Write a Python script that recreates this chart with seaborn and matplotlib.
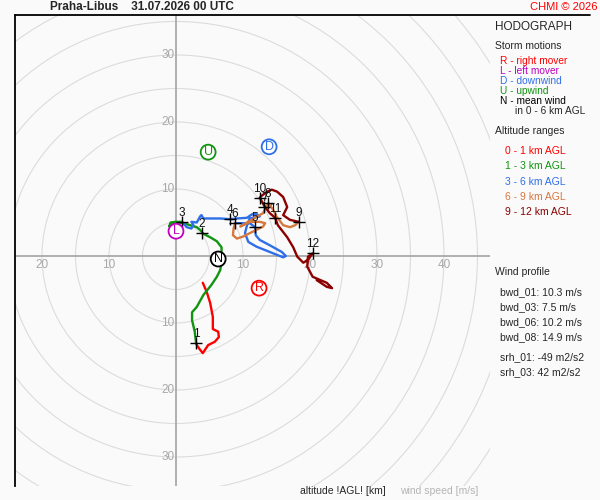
import matplotlib
matplotlib.use("Agg")
import numpy as np
import pandas as pd
import seaborn as sns
import matplotlib.pyplot as plt
from matplotlib.patches import Circle

# hodograph traces (u, v in m/s)
u_0_1 = [4.0, 4.6, 5.1, 5.5, 5.5, 6.3, 6.4, 5.8, 5.4, 4.8, 4.0, 3.6, 3.1, 3.0]
v_0_1 = [-4.0, -5.4, -7.0, -9.1, -10.9, -11.3, -12.1, -12.8, -13.0, -13.3, -14.5, -14.0, -13.3, -13.0]

u_1_3 = [3.0, 2.8, 2.4, 2.4, 3.1, 4.1, 5.3, 6.1, 6.6, 6.8, 6.8, 6.8, 6.1, 5.1, 4.1, 3.6,
         3.1, 2.1, 1.1, 0.1, -0.8, -1.0, -0.8, -0.1, 0.9]
v_1_3 = [-13.0, -11.3, -9.6, -8.4, -7.6, -5.8, -4.3, -3.1, -2.1, -1.0, 0.6, 1.3, 2.2, 2.8, 3.3, 3.9,
         4.3, 4.6, 4.9, 5.0, 4.8, 4.4, 5.0, 5.1, 5.1]

u_3_6 = [0.9, 1.6, 2.3, 2.6, 2.3, 3.1, 3.6, 3.8, 4.1, 5.1, 6.6, 8.1, 9.1, 10.6, 11.3, 12.0, 12.5,
         11.0, 10.6, 10.3, 10.8, 12.0, 14.0, 16.0, 16.4, 15.8, 14.0, 12.5, 11.9, 11.8, 11.0, 9.6, 8.8]
v_3_6 = [5.1, 4.3, 4.1, 4.6, 5.1, 5.0, 5.9, 6.1, 5.6, 5.6, 5.6, 5.5, 5.6, 5.7, 6.2, 6.3, 5.9,
         5.6, 4.6, 3.4, 2.1, 1.4, 0.6, -0.2, 0.0, 0.6, 1.6, 2.4, 3.1, 4.3, 4.9, 4.9, 4.9]

u_6_9 = [8.8, 8.6, 8.5, 9.1, 10.0, 11.0, 12.0, 13.0, 13.3, 12.5, 11.0, 10.0, 9.6, 11.8, 13.0,
         13.5, 13.8, 14.5, 15.0, 16.0, 17.0, 17.8, 18.3]
v_6_9 = [4.9, 4.1, 3.1, 2.6, 2.9, 3.4, 3.9, 4.4, 4.9, 5.1, 5.1, 4.6, 4.4, 5.7, 6.4,
         7.4, 7.9, 6.9, 5.9, 4.6, 4.3, 4.6, 5.1]

u_9_12 = [18.3, 17.0, 16.0, 16.6, 16.0, 15.1, 14.3, 13.6, 12.8, 12.5, 13.3, 14.0, 14.8, 15.2, 16.6,
          17.5, 18.1, 19.0, 19.7, 20.4, 19.7, 19.6, 20.4, 22.5, 23.3, 22.5, 21.0]
v_9_12 = [5.1, 5.4, 6.1, 7.3, 8.8, 9.6, 9.9, 9.6, 9.0, 8.7, 7.3, 6.4, 5.7, 4.6, 2.8,
          1.3, -0.1, -1.0, -0.6, 0.4, -0.1, -1.6, -3.1, -4.0, -4.8, -4.6, -3.6]

layers = ["0 - 1 km AGL", "1 - 3 km AGL", "3 - 6 km AGL", "6 - 9 km AGL", "9 - 12 km AGL"]
layer_colors = ["#ff0000", "#119411", "#2f6fe8", "#d47840", "#8b0000"]

# altitude marks (km)
alt_labels = ["1", "2", "3", "4", "5", "6", "7", "8", "9", "10", "11", "12"]
alt_u = [3.0, 3.9, 0.9, 8.1, 11.8, 8.8, 13.2, 13.7, 18.3, 12.5, 14.8, 20.4]
alt_v = [-13.0, 3.4, 5.1, 5.5, 4.3, 4.9, 7.3, 7.9, 5.1, 8.7, 5.7, 0.4]

# storm motions
storm_letters = ["R", "L", "D", "U", "N"]
storm_u = [12.4, 0.0, 13.9, 4.8, 6.3]
storm_v = [-4.8, 3.7, 16.3, 15.5, -0.45]
storm_colors = ["#ff0000", "#c000c0", "#2f6fe8", "#119411", "#000000"]

storm_text = ["R - right mover", "L - left mover", "D - downwind", "U - upwind", "N - mean wind"]
profile_text = ["bwd_01: 10.3 m/s", "bwd_03: 7.5 m/s", "bwd_06: 10.2 m/s", "bwd_08: 14.9 m/s"]
srh_text = ["srh_01: -49 m2/s2", "srh_03: 42 m2/s2"]

x_ticks = [-20, -10, 10, 20, 30, 40]
y_ticks = [-30, -20, -10, 10, 20, 30]

bg = "#fafafa"
sns.set_theme(style="white")
plt.rcParams["font.family"] = ["Liberation Sans", "DejaVu Sans"]

fig = plt.figure(figsize=(6, 5), dpi=100, facecolor=bg)
ax = fig.add_axes([15 / 600, 14 / 500, 475 / 600, 471 / 500])
ax.set_facecolor(bg)
ax.set_xlim(-24.03, 46.87)
ax.set_ylim(-34.33, 35.97)

# range rings every 5 m/s
for r in range(5, 75, 5):
    ax.add_patch(Circle((0, 0), r, fill=False, ec="#dcdcdc", lw=0.8, zorder=1))
ax.axhline(0, color="#a3a3a3", lw=1.2, zorder=2)
ax.axvline(0, color="#a3a3a3", lw=1.2, zorder=2)

for t in x_ticks:
    ax.text(t, -1.35, str(abs(t)), color="#a8a8a8", fontsize=8.5, ha="center", va="center", zorder=2)
for t in y_ticks:
    ax.text(-0.25, t, str(abs(t)), color="#a8a8a8", fontsize=8.5, ha="right", va="center", zorder=2)

rows = []
for name, us, vs in zip(layers, [u_0_1, u_1_3, u_3_6, u_6_9, u_9_12],
                        [v_0_1, v_1_3, v_3_6, v_6_9, v_9_12]):
    for i, (a, b) in enumerate(zip(us, vs)):
        rows.append({"layer": name, "step": i, "u": a, "v": b})
df = pd.DataFrame(rows)

sns.lineplot(data=df, x="u", y="v", hue="layer", palette=dict(zip(layers, layer_colors)),
             sort=False, estimator=None, legend=False, lw=1.7, ax=ax, zorder=3)

ax.plot(alt_u, alt_v, ls="none", marker="+", ms=8.5, mew=1, color="black", zorder=4)
for lab, a, b in zip(alt_labels, alt_u, alt_v):
    ax.text(a, b + 1.35, lab, fontsize=8.5, ha="center", va="center", color="#111111", zorder=5)

sns.scatterplot(x=storm_u, y=storm_v, s=115, color="white", edgecolor=storm_colors,
                linewidth=1.3, ax=ax, zorder=5)
for lt, a, b, c in zip(storm_letters, storm_u, storm_v, storm_colors):
    ax.text(a, b, lt, color=c, fontsize=9, ha="center", va="center", zorder=6)

ax.set_xticks([])
ax.set_yticks([])
ax.set_xlabel("")
ax.set_ylabel("")
for s in ["right", "bottom", "top"]:
    ax.spines[s].set_visible(False)
ax.spines["left"].set_color("black")
ax.spines["left"].set_linewidth(1.3)

fig.add_artist(plt.Line2D([15 / 600, 590 / 600], [1 - 15 / 500, 1 - 15 / 500],
                          color="black", lw=1.3))


def px(x, y, s, **kw):
    fig.text(x / 600, 1 - y / 500, s, va="center", **kw)


px(50, 7, "Praha-Libus    31.07.2026 00 UTC", fontsize=8.5, fontweight="bold")
px(598, 7, "CHMI © 2026", fontsize=8, color="#ff0000", ha="right")

px(495, 27, "HODOGRAPH", fontsize=8.5)
px(495, 46, "Storm motions", fontsize=7.5)
for i, (s, c) in enumerate(zip(storm_text, storm_colors)):
    px(500, 61 + 10 * i, s, fontsize=7.3, color=c)
px(515, 111, "in 0 - 6 km AGL", fontsize=7.3)

px(495, 131, "Altitude ranges", fontsize=7.5)
for i, (s, c) in enumerate(zip(layers, layer_colors)):
    px(505, 151 + 15.3 * i, s, fontsize=7.5, color=c)

px(495, 272, "Wind profile", fontsize=7.5)
for i, s in enumerate(profile_text):
    px(500, 292 + 15 * i, s, fontsize=7.5)
for i, s in enumerate(srh_text):
    px(500, 357 + 15 * i, s, fontsize=7.5)

px(300, 491, "altitude !AGL! [km]", fontsize=7.5)
px(400, 491, "wind speed [m/s]", fontsize=7.5, color="#b4b4b4")

fig.savefig("out.png", dpi=100, facecolor=bg)
